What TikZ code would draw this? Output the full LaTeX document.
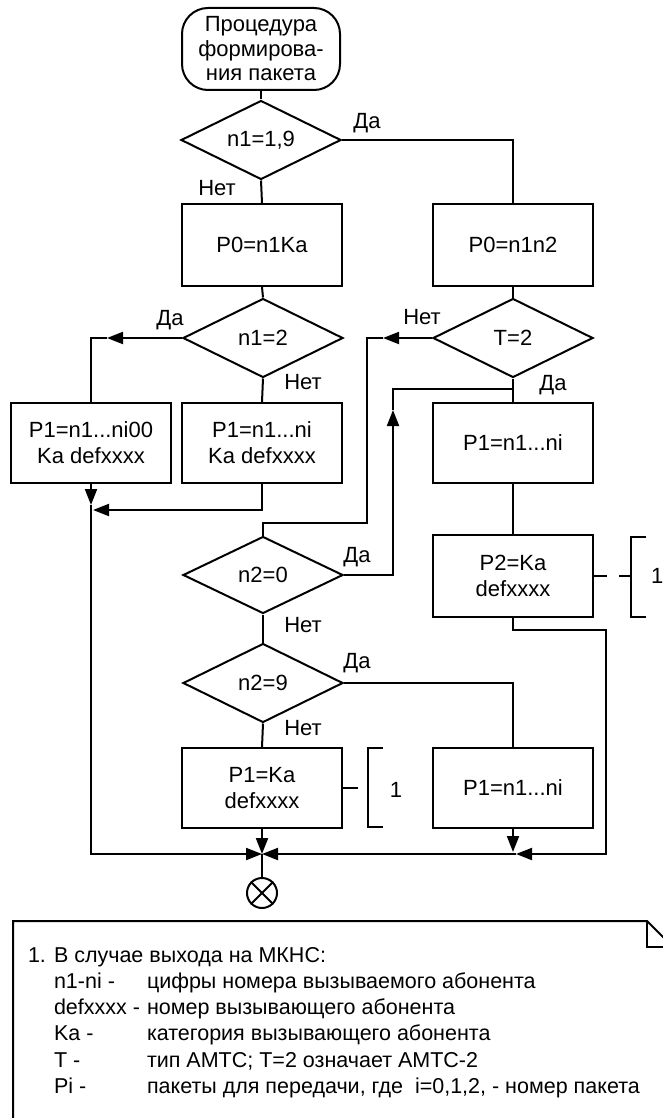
\documentclass[tikz,border=0pt]{standalone}
\usepackage{fontspec}
\setmainfont{Liberation Sans}
\usetikzlibrary{shapes.geometric,arrows.meta}
\begin{document}
\begin{tikzpicture}[x=1pt,y=-1pt,
  line width=2pt,
  every node/.style={font=\fontsize{22}{26}\selectfont},
  proc/.style={draw,minimum width=160pt,minimum height=80pt,align=center,inner sep=0pt},
  term/.style={draw,rounded corners=26pt,minimum width=158pt,minimum height=82pt,align=center,inner sep=0pt,font=\fontsize{22}{24.5}\selectfont},
  dec/.style={draw,diamond,aspect=2,minimum width=160pt,minimum height=79pt,inner sep=0pt},
  arr/.style={-{Triangle[length=16pt,width=12pt]}},
  lbl/.style={inner sep=0pt},
  notetxt/.style={anchor=base west,inner sep=0pt,font=\fontsize{21.5}{26}\selectfont},
  annot/.style={dash pattern=on 13pt off 12pt}
]
\useasboundingbox (0,0) rectangle (663,1118);

% nodes
\node[term] (s) at (261,49) {Процедура\\формирова-\\ния пакета};
\node[dec] (d1) at (261,140) {n1=1,9};
\node[proc,minimum height=82pt] (p0l) at (262,245) {P0=n1Ka};
\node[proc,minimum height=82pt] (p0r) at (513,245) {P0=n1n2};
\node[dec] (d2) at (263,338) {n1=2};
\node[dec] (d3) at (513,338) {T=2};
\node[proc] (b00) at (91,443) {P1=n1...ni00\\Ka defxxxx};
\node[proc] (bni) at (262,443) {P1=n1...ni\\Ka defxxxx};
\node[proc] (p1r) at (513,443) {P1=n1...ni};
\node[proc,minimum height=82pt] (p2) at (513,576) {P2=Ka\\defxxxx};
\node[dec,minimum height=77pt] (d4) at (263,575) {n2=0};
\node[dec] (d5) at (263,683) {n2=9};
\node[proc] (p1ka) at (262,788) {P1=Ka\\defxxxx};
\node[proc] (p1b) at (513,788) {P1=n1...ni};
\node[draw,circle,minimum size=30pt,inner sep=0pt] (end) at (262,893) {};
\draw (end.north west) -- (end.south east) (end.north east) -- (end.south west);

% labels
\node[lbl] (l1) at (367,123) {Да};
\node[lbl] (l2) at (217,188) {Нет};
\node[lbl] (l3) at (170,320) {Да};
\node[lbl] (l4) at (303,382) {Нет};
\node[lbl] (l5) at (422,317) {Нет};
\node[lbl] (l6) at (553,385) {Да};
\node[lbl] (l7) at (357,557) {Да};
\node[lbl] (l8) at (303,625) {Нет};
\node[lbl] (l9) at (357,663) {Да};
\node[lbl] (l10) at (303,728) {Нет};

% coordinates
\coordinate (j) at (262,854);
\coordinate (a1) at (107,338);
\coordinate (a2) at (91,505);
\coordinate (a3) at (93,510);
\coordinate (a4) at (383,338);
\coordinate (c1) at (367,523);
\coordinate (a5) at (393,410);
\coordinate (c3) at (513,389);
\coordinate (c4) at (606,630);
\coordinate (a6) at (516,854);
\coordinate (a7) at (513,852);

% connectors
\draw (s.south) -- (d1.north);
\draw (d1.south) -- (p0l.north);
\draw (d1.east) -| (p0r.north);
\draw (p0l.south) -- (d2.north);
\draw (p0r.south) -- (d3.north);
\draw[arr] (d2.west) -- (a1);
\draw (a1) -| (b00.north);
\draw (d2.south) -- (bni.north);
\draw[arr] (b00.south) -- (a2);
\draw[arr] (a2) |- (j);
\draw[arr] (bni.south) |- (a3);
\draw[arr] (d3.west) -- (a4);
\draw (a4) -| (c1) -| (d4.north);
\draw (d3.south) -- (p1r.north);
\draw[arr] (d4.east) -| (a5);
\draw (a5) |- (c3);
\draw (p1r.south) -- (p2.north);
\draw[arr] (p2.south) |- (c4) |- (a6);
\draw[arr] (a6) -- (j);
\draw (d4.south) -- (d5.north);
\draw (d5.south) -- (p1ka.north);
\draw (d5.east) -| (p1b.north);
\draw[arr] (p1ka.south) -- (j);
\draw[arr] (p1b.south) -- (a7);
\draw (j) -- (end);

% annotations
\coordinate (br1) at (631,576);
\draw[annot] (p2.east) -- (br1);
\draw (646,537) -- (631,537) -- (631,617) -- (646,617);
\node[anchor=west,inner sep=0pt] (one1) at (650,576) {1};
\coordinate (br2) at (368,788);
\draw[dash pattern=on 15pt off 10pt] (p1ka.east) -- (br2);
\draw (383,748) -- (368,748) -- (368,827) -- (383,827);
\node[inner sep=0pt] (one2) at (396,790) {1};

% note
\draw (13,1140) -- (13,921) -- (647,921) -- (680,954) -- (680,1140);
\draw (647,921) -- (647,947) -- (673,947);
\node[notetxt] (t0) at (27,962) {1.};
\node[notetxt] (t1) at (53,962) {В случае выхода на МКНС:};
\node[notetxt] (k1) at (53,988) {n1-ni -};
\node[notetxt] (v1) at (146,988) {цифры номера вызываемого абонента};
\node[notetxt] (k2) at (53,1014) {defxxxx -};
\node[notetxt] (v2) at (146,1014) {номер вызывающего абонента};
\node[notetxt] (k3) at (53,1040) {Ka -};
\node[notetxt] (v3) at (146,1040) {категория вызывающего абонента};
\node[notetxt] (k4) at (53,1067) {T -};
\node[notetxt] (v4) at (146,1067) {тип АМТС; T=2 означает АМТС-2};
\node[notetxt] (k5) at (53,1093) {Pi -};
\node[notetxt] (v5) at (146,1093) {пакеты для передачи, где\ \ i=0,1,2, - номер пакета};
\end{tikzpicture}
\end{document}
